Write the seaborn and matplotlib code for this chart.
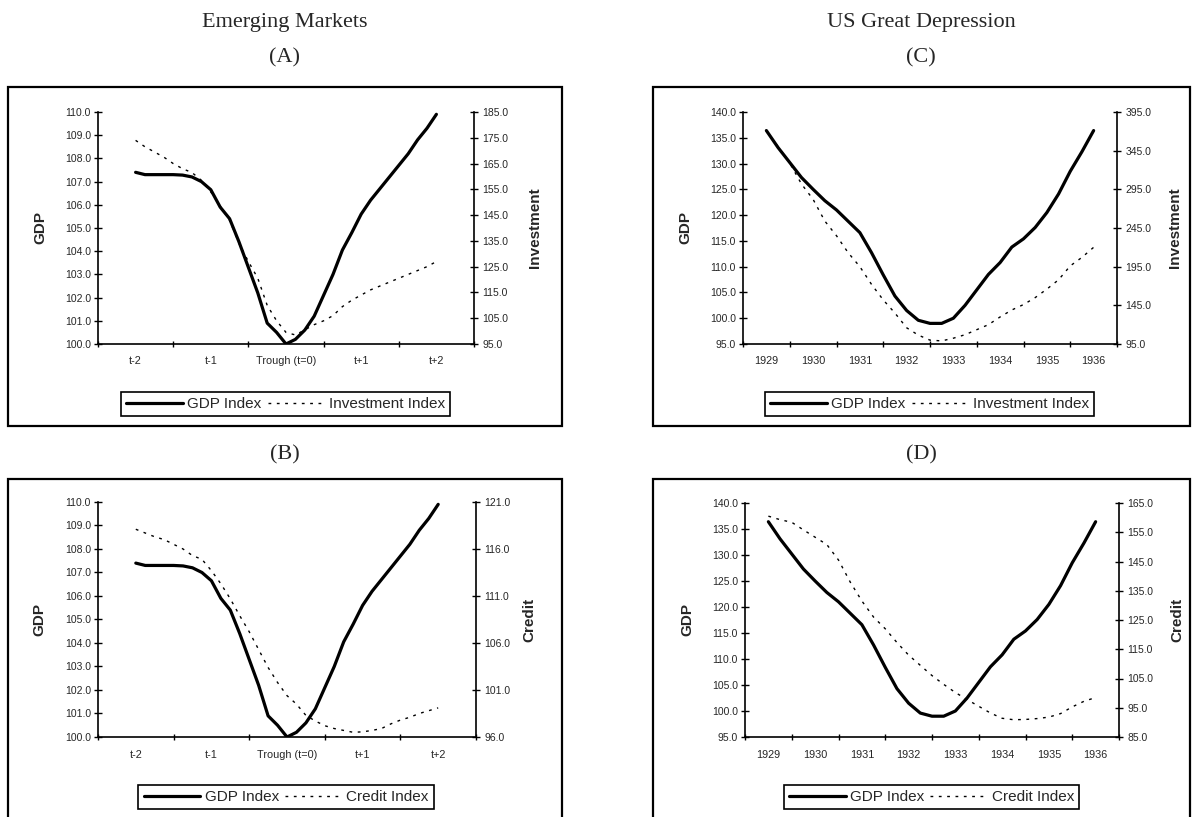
import numpy as np
import matplotlib
matplotlib.use('Agg')
import matplotlib.pyplot as plt
from matplotlib.patches import Rectangle
from matplotlib.ticker import FormatStrFormatter
import seaborn as sns

sns.set_style('white')
plt.rcParams['font.family'] = ['Liberation Sans', 'DejaVu Sans']

#%% Data
# emerging markets, time around the trough (years), t-2 .. t+2
em_t = np.arange(-2, 2.001, 0.125)
em_labels = ['t-2', 't-1', 'Trough (t=0)', 't+1', 't+2']
em_gdp = [107.4, 107.3, 107.3, 107.3, 107.3, 107.28, 107.2, 107.0, 106.65, 105.9,
          105.4, 104.4, 103.3, 102.2, 100.9, 100.5, 100.0, 100.2, 100.6, 101.2,
          102.1, 103.0, 104.05, 104.8, 105.6, 106.2, 106.7, 107.2, 107.7, 108.2,
          108.8, 109.3, 109.9]
em_inv = [174.0, 171.5, 169.5, 167.5, 165.0, 163.0, 161.5, 158.5, 154.0, 148.5,
          143.0, 134.0, 127.0, 120.5, 110.0, 104.0, 99.5, 98.5, 100.5, 102.5,
          104.0, 106.0, 109.5, 112.0, 114.0, 116.0, 117.5, 119.0, 120.5, 122.0,
          123.5, 125.0, 127.0]
em_credit = [118.1, 117.7, 117.3, 117.0, 116.5, 116.0, 115.3, 114.9, 113.7, 112.3,
             110.7, 108.9, 107.2, 105.3, 103.4, 101.8, 100.4, 99.5, 98.3, 97.7,
             97.2, 96.9, 96.7, 96.5, 96.55, 96.7, 96.9, 97.4, 97.8, 98.1,
             98.5, 98.8, 99.1]

# US great depression, quarterly 1929-1936
us_year = 1929 + np.arange(29) / 4
us_labels = ['1929', '1930', '1931', '1932', '1933', '1934', '1935', '1936']
us_gdp = [136.4, 133.1, 130.2, 127.3, 125.0, 122.8, 121.0, 118.8, 116.6, 112.7,
          108.4, 104.3, 101.5, 99.6, 99.0, 99.0, 100.0, 102.5, 105.5, 108.5,
          110.8, 113.8, 115.4, 117.6, 120.5, 124.1, 128.5, 132.3, 136.4]
us_inv = [370, 350, 329, 302, 282, 254, 235, 213, 195, 172,
          152, 135, 116, 106.5, 100, 99, 102.5, 107, 113.5, 120,
          130, 139, 146, 155, 166, 178, 196, 207, 220]
us_credit = [160.5, 159.3, 158.4, 155.8, 153.3, 150.8, 145.5, 138.0, 131.5, 126.0,
             122.0, 117.3, 113.0, 109.5, 106.0, 103.0, 100.2, 97.8, 95.5, 93.2,
             91.4, 90.9, 91.0, 91.3, 91.8, 93.0, 95.3, 97.2, 98.5]

W, H = 1201, 817
fig = plt.figure(figsize=(W / 100, H / 100), dpi=100)


def fx(px):
    return px / W


def fy(py):
    return 1 - py / H


def panel(left, right, top, bottom, x, gdp, other, other_name, other_ylabel,
          xmajor, xlabels, yl, yr, lab_l, lab_r, leg_x, leg_y):
    ax = fig.add_axes([fx(left), fy(bottom), fx(right - left), (bottom - top) / H])
    sns.lineplot(x=x, y=gdp, ax=ax, color='black', lw=2.3, legend=False)
    ax2 = ax.twinx()
    sns.lineplot(x=x, y=other, ax=ax2, color='black', lw=1.0,
                 linestyle=(0, (2, 4)), legend=False)

    step = xmajor[1] - xmajor[0]
    ax.set_xlim(xmajor[0] - step / 2, xmajor[-1] + step / 2)
    ax.set_xticks(xmajor)
    ax.set_xticklabels(xlabels)
    ax.set_xticks(np.append(np.array(xmajor) - step / 2, xmajor[-1] + step / 2), minor=True)
    ax.tick_params(axis='x', which='major', length=0, pad=9, labelsize=7.8)
    ax.tick_params(axis='x', which='minor', bottom=True, direction='inout',
                   length=5, width=1, color='black')

    for a, (lo, hi, st) in ((ax, yl), (ax2, yr)):
        a.set_ylim(lo, hi)
        a.set_yticks(np.arange(lo, hi + st / 2, st))
        a.yaxis.set_major_formatter(FormatStrFormatter('%.1f'))
    ax.tick_params(axis='y', left=True, direction='inout', length=6, width=1,
                   labelsize=7.5, pad=2, color='black')
    ax2.tick_params(axis='y', right=True, direction='inout', length=6, width=1,
                    labelsize=7.5, pad=3, color='black')

    ax.spines['top'].set_visible(False)
    ax.spines['right'].set_visible(False)
    for s in ('left', 'bottom'):
        ax.spines[s].set_color('black')
        ax.spines[s].set_linewidth(1.2)
    for s in ('top', 'left', 'bottom'):
        ax2.spines[s].set_visible(False)
    ax2.spines['right'].set_color('black')
    ax2.spines['right'].set_linewidth(1.2)

    ax.set_ylabel('GDP', fontsize=11, fontweight='bold')
    ax.yaxis.set_label_coords(lab_l, 0.5)
    ax.yaxis.label.set_va('center')
    ax2.set_ylabel(other_ylabel, fontsize=11, fontweight='bold')
    ax2.yaxis.set_label_coords(lab_r, 0.5)
    ax2.yaxis.label.set_va('center')
    ax.set_xlabel('')

    leg = fig.legend(handles=[ax.lines[0], ax2.lines[0]],
                     labels=['GDP Index', other_name],
                     loc='center', bbox_to_anchor=(fx(leg_x), fy(leg_y)),
                     ncol=2, frameon=True, fancybox=False, framealpha=1,
                     edgecolor='black', fontsize=11, handlelength=3.7,
                     handletextpad=0.3, columnspacing=0.4, borderpad=0.35)
    leg.get_frame().set_linewidth(1.2)
    return ax, ax2


#%% Four panels
panel(98, 474, 112, 344, em_t, em_gdp, em_inv, 'Investment Index', 'Investment',
      [-2, -1, 0, 1, 2], em_labels, (100, 110, 1), (95, 185, 10),
      -0.154, 1.162, 285.5, 404)
panel(743, 1117, 112, 344, us_year, us_gdp, us_inv, 'Investment Index', 'Investment',
      list(range(1929, 1937)), us_labels, (95, 140, 5), (95, 395, 50),
      -0.155, 1.155, 929.5, 404)
panel(98, 476, 502, 737, em_t, em_gdp, em_credit, 'Credit Index', 'Credit',
      [-2, -1, 0, 1, 2], em_labels, (100, 110, 1), (96, 121, 5),
      -0.154, 1.141, 286, 797)
panel(745, 1119, 503, 737, us_year, us_gdp, us_credit, 'Credit Index', 'Credit',
      list(range(1929, 1937)), us_labels, (95, 140, 5), (85, 165, 10),
      -0.155, 1.155, 931.5, 797)

#%% Frames and headings
for x0, x1, y0, y1 in ((8, 562, 87, 426), (653, 1190, 87, 426),
                       (8, 562, 479, 830), (653, 1190, 479, 830)):
    fig.add_artist(Rectangle((fx(x0), fy(y1)), fx(x1 - x0), (y1 - y0) / H,
                             transform=fig.transFigure, fill=False,
                             lw=1.6, ec='black'))

serif = ['Liberation Serif', 'DejaVu Serif']
fig.text(fx(285), fy(23), 'Emerging Markets', ha='center', va='center', fontsize=16, family=serif)
fig.text(fx(285), fy(58), '(A)', ha='center', va='center', fontsize=16, family=serif)
fig.text(fx(921), fy(23), 'US Great Depression', ha='center', va='center', fontsize=16, family=serif)
fig.text(fx(921), fy(58), '(C)', ha='center', va='center', fontsize=16, family=serif)
fig.text(fx(285), fy(455), '(B)', ha='center', va='center', fontsize=16, family=serif)
fig.text(fx(921), fy(455), '(D)', ha='center', va='center', fontsize=16, family=serif)

fig.savefig('out.png', dpi=100)
